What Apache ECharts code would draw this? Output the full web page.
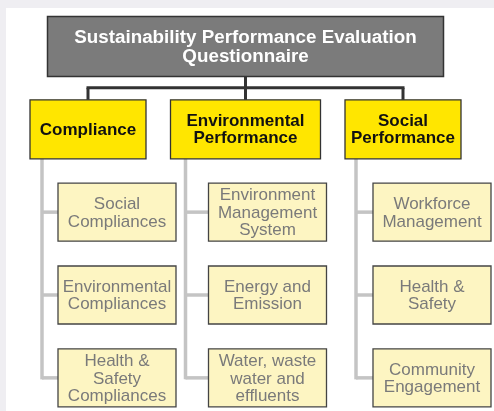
<!DOCTYPE html>
<html>
<head>
<meta charset="utf-8">
<script src="https://cdn.jsdelivr.net/npm/echarts@6/dist/echarts.min.js"></script>
<style>
html,body{margin:0;padding:0;background:#efeef2;}
#chart{width:494px;height:411px;}
</style>
</head>
<body>
<div id="chart"></div>
<script>
// ---- data ----
const rootTitle = 'Sustainability Performance Evaluation\nQuestionnaire';
const categories = ['Compliance', 'Environmental\nPerformance', 'Social\nPerformance'];
const complianceItems = ['Social\nCompliances', 'Environmental\nCompliances', 'Health &\nSafety\nCompliances'];
const environmentalItems = ['Environment\nManagement\nSystem', 'Energy and\nEmission', 'Water, waste\nwater and\neffluents'];
const socialItems = ['Workforce\nManagement', 'Health &\nSafety', 'Community\nEngagement'];
const itemGroups = [complianceItems, environmentalItems, socialItems];

// ---- layout / style (not data) ----
const catWidth = [116, 150, 116];
const trunkOffset = [-46, -60, -47];
const childOffset = [-30, -37, -30];
const childWidth = 118;
const boxH = 59;

const rootData = [[1, 0]];
const catData = categories.map((c, i) => [i, 1]);
const childData = [];
itemGroups.forEach((g, c) => g.forEach((t, r) => childData.push([c, r + 2, r])));

const chart = echarts.init(document.getElementById('chart'));

function renderRoot(params, api) {
  const p = api.coord([api.value(0), api.value(1)]);
  const bus = api.coord([0, 0.5]);
  const busEnd = api.coord([2, 0.5]);
  const children = [];
  const lineStyle = {stroke: '#333', lineWidth: 3};
  children.push({type: 'line', shape: {x1: p[0], y1: p[1] + boxH / 2, x2: p[0], y2: bus[1]}, style: lineStyle});
  children.push({type: 'line', shape: {x1: bus[0] - 1.5, y1: bus[1], x2: busEnd[0] + 1.5, y2: bus[1]}, style: lineStyle});
  categories.forEach((c, i) => {
    const q = api.coord([i, 1]);
    children.push({type: 'line', shape: {x1: q[0], y1: bus[1], x2: q[0], y2: q[1] - boxH / 2}, style: lineStyle});
  });
  children.push({type: 'rect', shape: {x: p[0] - 198, y: p[1] - 30, width: 396, height: 60},
    style: {fill: '#7b7b7b', stroke: '#333', lineWidth: 1.5}});
  children.push({type: 'text', x: p[0], y: p[1] + 1, style: {text: rootTitle, fill: '#fff',
    font: 'bold 18.8px "Liberation Sans", Arial, sans-serif', lineHeight: 19, align: 'center', verticalAlign: 'middle'}});
  return {type: 'group', children};
}

function renderCat(params, api) {
  const c = api.value(0);
  const p = api.coord([c, api.value(1)]);
  const last = api.coord([c, itemGroups[c].length + 1]);
  const w = catWidth[c];
  const tx = p[0] + trunkOffset[c];
  return {type: 'group', children: [
    {type: 'line', shape: {x1: tx, y1: p[1] + boxH / 2, x2: tx, y2: last[1] + 1.5}, style: {stroke: '#c4c4c4', lineWidth: 3.5}},
    {type: 'rect', shape: {x: p[0] - w / 2, y: p[1] - boxH / 2, width: w, height: boxH},
      style: {fill: '#ffe600', stroke: '#333', lineWidth: 1.3}},
    {type: 'text', x: p[0], y: p[1] + 1, style: {text: categories[c], fill: '#111',
      font: 'bold 17px "Liberation Sans", Arial, sans-serif', lineHeight: 17, align: 'center', verticalAlign: 'middle'}}
  ]};
}

function renderChild(params, api) {
  const c = api.value(0);
  const r = api.value(1);
  const idx = api.value(2);
  const base = api.coord([c, r]);
  const tx = base[0] + trunkOffset[c];
  const left = base[0] + childOffset[c];
  const y = base[1];
  return {type: 'group', children: [
    {type: 'line', shape: {x1: tx, y1: y, x2: left, y2: y}, style: {stroke: '#c4c4c4', lineWidth: 3.5}},
    {type: 'rect', shape: {x: left, y: y - 29, width: childWidth, height: 58},
      style: {fill: '#fdf5c2', stroke: '#444', lineWidth: 1.3}},
    {type: 'text', x: left + childWidth / 2, y: y + 1, style: {text: itemGroups[c][idx], fill: '#7a7a7a',
      font: '17px "Liberation Sans", Arial, sans-serif', lineHeight: 17.5, align: 'center', verticalAlign: 'middle'}}
  ]};
}

chart.setOption({
  backgroundColor: '#efeef2',
  animation: false,
  graphic: [{type: 'rect', left: 6, top: 8, shape: {width: 488, height: 403}, style: {fill: '#ffffff'}, z: -10}],
  grid: {left: 9.25, right: 12.25, top: 5, bottom: 0},
  xAxis: {type: 'value', min: -0.5, max: 2.5, show: false},
  yAxis: {type: 'value', min: -0.5, max: 4.4, inverse: true, show: false},
  series: [
    {type: 'custom', renderItem: renderRoot, data: rootData, z: 3, clip: false},
    {type: 'custom', renderItem: renderCat, data: catData, z: 2, clip: false},
    {type: 'custom', renderItem: renderChild, data: childData, z: 2, clip: false}
  ]
});
</script>
</body>
</html>
